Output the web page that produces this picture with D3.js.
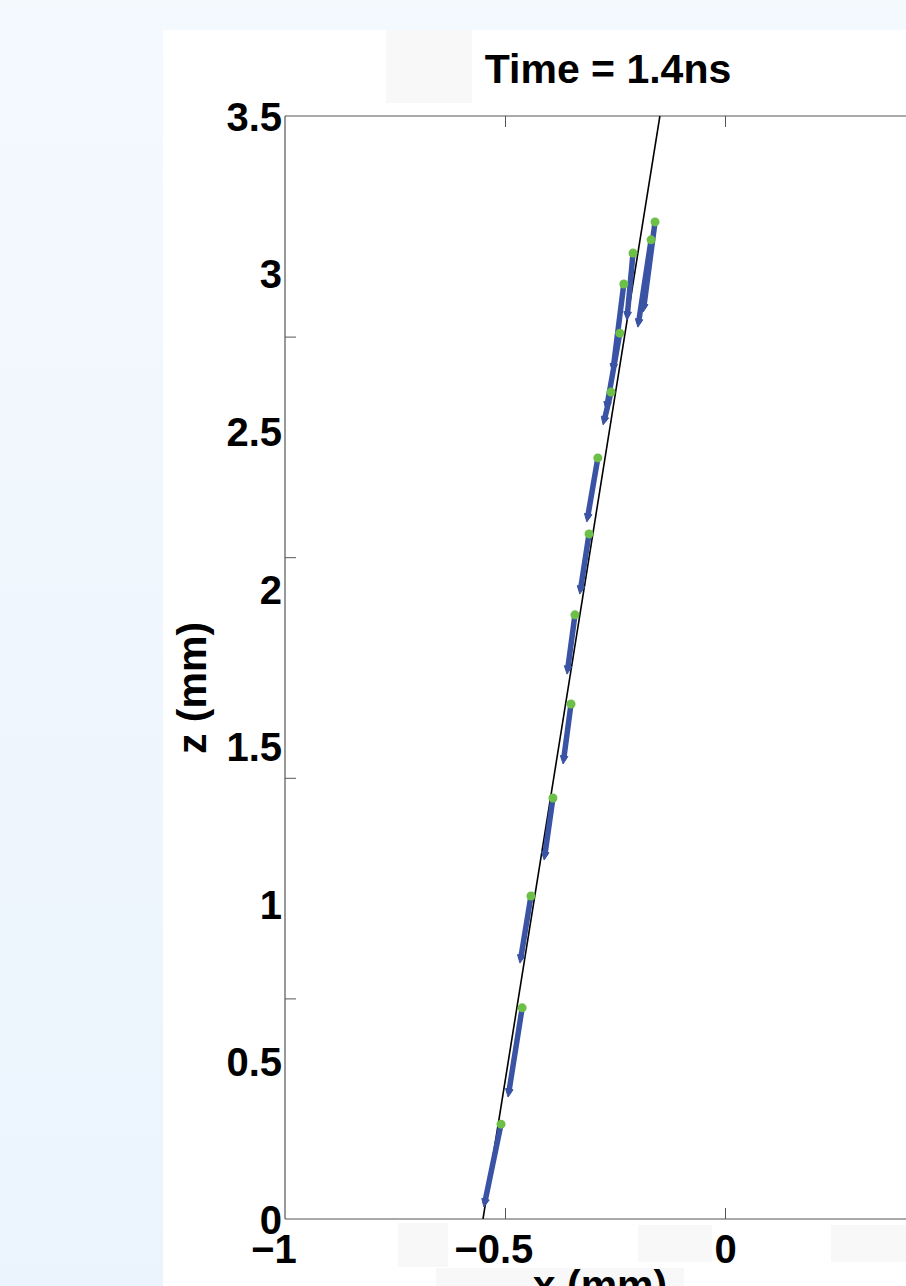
<!DOCTYPE html>
<html>
<head>
<meta charset="utf-8">
<script src="https://cdn.jsdelivr.net/npm/d3@7/dist/d3.min.js"></script>
<style>
  html, body { margin: 0; padding: 0; }
  body { width: 906px; height: 1286px; overflow: hidden; }
  text { font-family: "Liberation Sans", Arial, Helvetica, sans-serif; font-weight: bold; fill: #000; }
</style>
</head>
<body>
<svg id="chart" width="906" height="1286"></svg>
<script>
// ---- data (x, z in mm) ----
const startX = [-0.509, -0.461, -0.441, -0.391, -0.350, -0.341, -0.309, -0.289, -0.259, -0.239, -0.230, -0.209, -0.168, -0.159];
const startZ = [0.301, 0.670, 1.025, 1.336, 1.634, 1.917, 2.174, 2.415, 2.624, 2.811, 2.967, 3.065, 3.107, 3.164];
const endX   = [-0.548, -0.493, -0.466, -0.411, -0.368, -0.359, -0.330, -0.314, -0.277, -0.270, -0.255, -0.223, -0.198, -0.186];
const endZ   = [0.038, 0.387, 0.812, 1.139, 1.444, 1.729, 1.983, 2.212, 2.520, 2.567, 2.688, 2.853, 2.830, 2.878];
const refLineX = [-0.55, -0.148];
const refLineZ = [0, 3.5];
const xTickLabels = [-1, -0.5, 0, 0.5];
const xTickMarks = [-0.5, 0, 0.5];
const yTickLabels = [0, 0.5, 1, 1.5, 2, 2.5, 3, 3.5];
const yTickMarks = [0.7, 1.4, 2.1, 2.8];
const titleText = "Time = 1.4ns";
const xLabelText = "x (mm)";
const yLabelText = "z (mm)";

const svg = d3.select("#chart");
const W = 906, H = 1286;
const tickFont = 40;

// background
const defs = svg.append("defs");
const grad = defs.append("linearGradient").attr("id", "bg").attr("x1", 0).attr("y1", 0).attr("x2", 0).attr("y2", 1);
grad.append("stop").attr("offset", "0%").attr("stop-color", "#f4f9fe");
grad.append("stop").attr("offset", "100%").attr("stop-color", "#ebf4fd");
svg.append("rect").attr("width", W).attr("height", H).attr("fill", "url(#bg)");
svg.append("rect").attr("x", 163).attr("y", 30).attr("width", W - 163).attr("height", H - 30).attr("fill", "#ffffff");

// faint label panels
const panels = [[386, 30, 86, 73], [398, 1223, 50, 44], [638, 1225, 74, 37], [831, 1225, 75, 37], [436, 1268, 248, 18]];
svg.selectAll("rect.panel").data(panels).enter().append("rect").attr("class", "panel")
  .attr("x", d => d[0]).attr("y", d => d[1]).attr("width", d => d[2]).attr("height", d => d[3])
  .attr("fill", "#f8f8f8");

const x = d3.scaleLinear().domain([-1, 0.5]).range([285, 945]);
const y = d3.scaleLinear().domain([0, 3.5]).range([1219, 116]);

defs.append("clipPath").attr("id", "plotclip").append("rect")
  .attr("x", x(-1)).attr("y", y(3.5)).attr("width", x(0.5) - x(-1)).attr("height", y(0) - y(3.5));

// axes box
const axisColor = "#555";
svg.append("line").attr("x1", x(-1)).attr("x2", x(-1)).attr("y1", y(3.5)).attr("y2", y(0)).attr("stroke", axisColor).attr("stroke-width", 1.2);
svg.append("line").attr("x1", x(-1)).attr("x2", x(0.5)).attr("y1", y(0)).attr("y2", y(0)).attr("stroke", axisColor).attr("stroke-width", 1.2);
svg.append("line").attr("x1", x(-1)).attr("x2", x(0.5)).attr("y1", y(3.5)).attr("y2", y(3.5)).attr("stroke", axisColor).attr("stroke-width", 1.2);

// tick marks (inward)
const tickLen = 11;
const yMarks = d3.axisRight(y).tickValues(yTickMarks).tickSize(tickLen).tickFormat("");
const gy = svg.append("g").attr("transform", `translate(${x(-1)},0)`).call(yMarks);
gy.select(".domain").remove();
gy.selectAll("line").attr("stroke", axisColor);
const xMarksB = d3.axisTop(x).tickValues(xTickMarks).tickSize(tickLen).tickFormat("");
const gxb = svg.append("g").attr("transform", `translate(0,${y(0)})`).call(xMarksB);
gxb.select(".domain").remove();
gxb.selectAll("line").attr("stroke", axisColor);
const xMarksT = d3.axisBottom(x).tickValues(xTickMarks).tickSize(tickLen).tickFormat("");
const gxt = svg.append("g").attr("transform", `translate(0,${y(3.5)})`).call(xMarksT);
gxt.select(".domain").remove();
gxt.selectAll("line").attr("stroke", axisColor);

// tick labels
const fmt = d => (d < 0 ? "\u2212" : "") + Math.abs(d);
const yLab = d3.axisLeft(y).tickValues(yTickLabels).tickSize(0).tickPadding(3).tickFormat(fmt);
const gyl = svg.append("g").attr("transform", `translate(${x(-1)},0)`).call(yLab);
gyl.select(".domain").remove();
gyl.selectAll("text").attr("font-size", tickFont).attr("font-family", "Liberation Sans, Arial, sans-serif").attr("font-weight", "bold").attr("fill", "#000").attr("dy", "0.36em");

const xLab = d3.axisBottom(x).tickValues(xTickLabels).tickSize(0).tickPadding(0).tickFormat(fmt);
const gxl = svg.append("g").attr("transform", `translate(0,${y(0)})`).call(xLab);
gxl.select(".domain").remove();
gxl.selectAll("text").attr("font-size", tickFont).attr("font-family", "Liberation Sans, Arial, sans-serif").attr("font-weight", "bold").attr("fill", "#000").attr("dy", null).attr("y", 44)
  .each(function(d) {
    if (d < 0) {
      const t = d3.select(this);
      const full = this.getComputedTextLength();
      const tmp = svg.append("text").attr("font-size", tickFont).attr("font-weight", "bold").text(String(Math.abs(d)));
      const num = tmp.node().getComputedTextLength();
      tmp.remove();
      t.attr("dx", -(full - num) / 2);
    }
  });

// reference line
const plot = svg.append("g").attr("clip-path", "url(#plotclip)");
plot.append("line")
  .attr("x1", x(refLineX[0])).attr("y1", y(refLineZ[0]))
  .attr("x2", x(refLineX[1])).attr("y2", y(refLineZ[1]))
  .attr("stroke", "#000").attr("stroke-width", 1.6);

// arrows
const arrows = startX.map((sx, i) => ({ sx, sz: startZ[i], ex: endX[i], ez: endZ[i] }));
const blue = "#3a53a4";
const ag = plot.append("g");
arrows.forEach(a => {
  const x0 = x(a.sx), y0 = y(a.sz), x1 = x(a.ex), y1 = y(a.ez);
  const dx = x1 - x0, dy = y1 - y0, L = Math.hypot(dx, dy);
  const ux = dx / L, uy = dy / L, px = -uy, py = ux;
  const hl = 8, hw = 3.8;
  const bx = x1 - ux * hl, by = y1 - uy * hl;
  ag.append("line").attr("x1", x0).attr("y1", y0).attr("x2", bx + ux * 2).attr("y2", by + uy * 2)
    .attr("stroke", blue).attr("stroke-width", 5.5).attr("stroke-linecap", "round");
  ag.append("path")
    .attr("d", `M${x1},${y1} L${bx + px * hw},${by + py * hw} L${bx - px * hw},${by - py * hw} Z`)
    .attr("fill", blue).attr("stroke", blue).attr("stroke-width", 1).attr("stroke-linejoin", "round");
});
plot.append("g").selectAll("circle").data(arrows).enter().append("circle")
  .attr("cx", d => x(d.sx)).attr("cy", d => y(d.sz)).attr("r", 4.5).attr("fill", "#6cbf47");

// title & labels
svg.append("text").attr("x", 608).attr("y", 83).attr("text-anchor", "middle").attr("font-size", 41).text(titleText);
svg.append("text").attr("x", 600).attr("y", 1299).attr("text-anchor", "middle").attr("font-size", 41).text(xLabelText);
svg.append("text").attr("transform", "translate(206,688) rotate(-90)").attr("text-anchor", "middle").attr("font-size", 41).text(yLabelText);
</script>
</body>
</html>
